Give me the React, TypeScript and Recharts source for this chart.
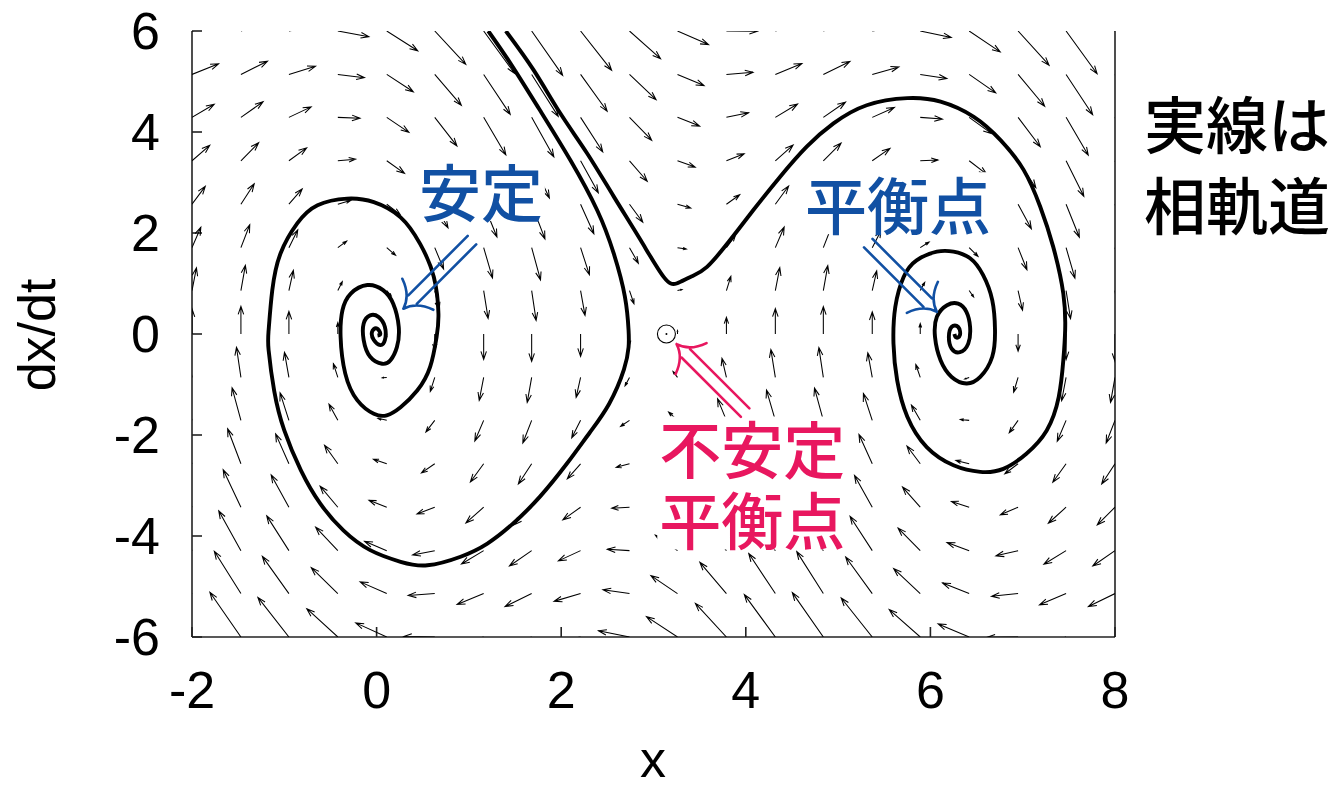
import React from 'react';
import { ComposedChart, XAxis, YAxis, Line, Scatter, Label } from 'recharts';

// axis ticks
const xTicks = [-2, 0, 2, 4, 6, 8];
const yTicks = [-6, -4, -2, 0, 2, 4, 6];

// vector field grid: 20 columns x 15 rows
const fieldX = [-2, -1.47, -0.95, -0.42, 0.11, 0.63, 1.16, 1.68, 2.21, 2.74, 3.26, 3.79, 4.32, 4.84, 5.37, 5.89, 6.42, 6.95, 7.47, 8];
const fieldY = [-6, -5.14, -4.29, -3.43, -2.57, -1.71, -0.86, 0, 0.86, 1.71, 2.57, 3.43, 4.29, 5.14, 6];
const columnPull = [8.9, 9.8, 8.0, 4.0, -1.0, -5.8, -9.0, -9.7, -7.9, -3.8, 1.2, 5.9, 9.0, 9.7, 7.8, 3.7, -1.4, -6.1, -9.1, -9.7];
const damping = 1.0;

// orbit falling into the left stable point
const leftOrbitX = [
  1.21, 1.45, 1.77, 2.1, 2.39, 2.57, 2.69, 2.73, 2.73, 2.68,
  2.52, 2.31, 2.06, 1.77, 1.48, 1.2, 0.91, 0.55, 0.26, -0.07,
  -0.36, -0.61, -0.82, -1.0, -1.11, -1.17, -1.17, -1.13, -1.04, -0.86,
  -0.64, -0.32, -0.03, 0.26, 0.47, 0.62, 0.67, 0.65, 0.58, 0.44,
  0.26, 0.11, -0.03, -0.21, -0.34, -0.39, -0.37, -0.28, -0.1, 0.07,
  0.18, 0.24, 0.22, 0.15, 0.06, -0.07, -0.14, -0.14, -0.07, 0.02,
  0.09, 0.09, 0.04, -0.03, -0.05, 0.0, 0.04, 0.01,
];
const leftOrbitY = [
  6.0, 5.36, 4.43, 3.44, 2.45, 1.59, 0.74, 0.07, -0.26, -0.7,
  -1.38, -1.95, -2.57, -3.22, -3.75, -4.15, -4.41, -4.58, -4.51, -4.28,
  -3.89, -3.36, -2.7, -1.91, -1.12, -0.32, 0.07, 0.87, 1.6, 2.19,
  2.55, 2.68, 2.61, 2.31, 1.79, 1.13, 0.4, -0.06, -0.65, -1.12,
  -1.45, -1.61, -1.58, -1.31, -0.78, -0.06, 0.47, 0.8, 0.97, 0.87,
  0.6, 0.14, -0.26, -0.52, -0.59, -0.45, -0.12, 0.21, 0.37, 0.34,
  0.14, -0.12, -0.22, -0.12, 0.04, 0.11, 0.01, -0.03,
];

// orbit passing over the saddle into the right stable point
const rightOrbitX = [
  1.4, 1.7, 1.99, 2.28, 2.57, 2.86, 3.11, 3.25, 3.4, 3.58,
  3.83, 4.08, 4.37, 4.66, 4.95, 5.31, 5.75, 6.11, 6.47, 6.76,
  7.01, 7.19, 7.33, 7.44, 7.46, 7.44, 7.39, 7.26, 7.04, 6.79,
  6.54, 6.25, 5.96, 5.75, 5.64, 5.6, 5.62, 5.71, 5.85, 6.07,
  6.25, 6.43, 6.57, 6.67, 6.7, 6.67, 6.54, 6.39, 6.23, 6.11,
  6.05, 6.07, 6.18, 6.3, 6.39, 6.43, 6.41, 6.32, 6.23, 6.2,
  6.23, 6.3, 6.32, 6.28, 6.26,
];
const rightOrbitY = [
  6.0, 5.23, 4.37, 3.58, 2.72, 1.86, 1.13, 1.0, 1.13, 1.33,
  1.86, 2.45, 3.11, 3.71, 4.17, 4.53, 4.67, 4.6, 4.3, 3.84,
  3.25, 2.52, 1.73, 0.8, 0.08, -0.52, -1.25, -1.91, -2.37, -2.67,
  -2.73, -2.6, -2.24, -1.64, -0.92, -0.19, 0.54, 1.13, 1.46, 1.63,
  1.63, 1.5, 1.17, 0.67, 0.08, -0.45, -0.85, -0.98, -0.85, -0.52,
  -0.06, 0.34, 0.57, 0.6, 0.44, 0.14, -0.19, -0.36, -0.29, -0.06,
  0.14, 0.14, -0.02, -0.07, 0.0,
];

const BLUE = '#1150a3';
const PINK = '#e8175f';
const FONT = '"Liberation Sans", Arial, sans-serif';
const CJK = '"Noto Sans CJK JP", "Noto Sans CJK SC", sans-serif';

// annotations
const notes = [
  { x: 1.13, y: 2.85, lines: ['安定'], color: BLUE },
  { x: 5.65, y: 2.59, lines: ['平衡点'], color: BLUE },
  { x: 4.07, y: -2.95, lines: ['不安定', '平衡点'], color: PINK },
];
const pointers = [
  { x: 0.29, y: 0.5, angle: -45, color: BLUE },
  { x: 6.07, y: 0.44, angle: -135, color: BLUE },
  { x: 3.25, y: -0.2, angle: 45, color: PINK },
];
const saddle = [{ x: 3.14, y: 0 }];
const sideNote = ['実線は', '相軌道'];

// layout
const W = 1335;
const H = 788;
const MARGIN = { top: 31, right: 219, bottom: 0, left: 0 };
const Y_AXIS_W = 192;
const X_AXIS_H = 151;
const PX_X = (W - MARGIN.right - 1 - Y_AXIS_W) / 10;
const PX_Y = (H - MARGIN.top - X_AXIS_H) / 12;
const STEP = 0.056;

const fieldData = fieldX.flatMap((x, i) =>
  fieldY.map((y) => ({ x, y, u: y, v: columnPull[i] - damping * y }))
);
const leftOrbit = leftOrbitX.map((x, i) => ({ x, y: leftOrbitY[i] }));
const rightOrbit = rightOrbitX.map((x, i) => ({ x, y: rightOrbitY[i] }));

function FieldArrow(props: any) {
  const { cx, cy, payload } = props;
  if (cx == null || cy == null) return <g />;
  const dx = payload.u * STEP * PX_X;
  const dy = -payload.v * STEP * PX_Y;
  const len = Math.hypot(dx, dy);
  if (len < 0.6) return <g />;
  const ex = cx + dx;
  const ey = cy + dy;
  const bx = -dx / len;
  const by = -dy / len;
  const hl = Math.min(8.5, len * 0.4);
  const c = Math.cos(0.33);
  const s = Math.sin(0.33);
  const w1x = ex + hl * (bx * c - by * s);
  const w1y = ey + hl * (bx * s + by * c);
  const w2x = ex + hl * (bx * c + by * s);
  const w2y = ey + hl * (-bx * s + by * c);
  return (
    <path
      d={`M${cx},${cy}L${ex},${ey}M${w1x},${w1y}L${ex},${ey}L${w2x},${w2y}`}
      stroke="#000"
      strokeWidth={1.05}
      fill="none"
    />
  );
}

function Pointer(props: any) {
  const { cx, cy, payload } = props;
  const t = (payload.angle * Math.PI) / 180;
  const bx = Math.cos(t);
  const by = Math.sin(t);
  const nx = -by;
  const ny = bx;
  const at = (a: number, r: number) => {
    const c = Math.cos(a);
    const s = Math.sin(a);
    return [cx + r * (bx * c - by * s), cy + r * (bx * s + by * c)];
  };
  const shafts = [-6, 6].map(
    (o) =>
      `M${cx + bx * 13 + nx * o},${cy + by * 13 + ny * o}L${cx + bx * 97 + nx * o},${cy + by * 97 + ny * o}`
  );
  const wings = [1, -1].map((sg) => {
    const [qx, qy] = at(sg * 0.3, 15);
    const [ex, ey] = at(sg * 0.82, 30);
    return `M${cx},${cy}Q${qx},${qy} ${ex},${ey}`;
  });
  return (
    <path
      d={[...shafts, ...wings].join('')}
      stroke={payload.color}
      strokeWidth={2.6}
      fill="none"
      strokeLinecap="round"
    />
  );
}

function Note(props: any) {
  const { cx, cy, payload } = props;
  const fs = 62;
  const gap = 71;
  const lines: string[] = payload.lines;
  const w = Math.max(...lines.map((l) => l.length)) * fs + 4;
  const h = (lines.length - 1) * gap + fs;
  const top = cy - ((lines.length - 1) / 2) * gap;
  return (
    <g>
      <rect x={cx - w / 2} y={cy - h / 2} width={w} height={h} fill="#fff" />
      <text
        x={cx}
        y={top}
        textAnchor="middle"
        dominantBaseline="central"
        fontSize={fs}
        fontFamily={CJK}
        fontWeight={500}
        fill={payload.color}
      >
        {lines.map((l, i) => (
          <tspan key={i} x={cx} dy={i === 0 ? 0 : gap}>
            {l}
          </tspan>
        ))}
      </text>
    </g>
  );
}

function SaddleMark(props: any) {
  const { cx, cy } = props;
  return (
    <g>
      <circle cx={cx} cy={cy} r={9} fill="none" stroke="#000" strokeWidth={1.1} />
      <circle cx={cx} cy={cy} r={1} fill="#000" />
    </g>
  );
}

const axisStyle = { stroke: '#222', strokeWidth: 1.6 };
const tickStyle = { fill: '#000', fontSize: 52, fontFamily: FONT };
const blank = () => '';

export default function App() {
  return (
    <div style={{ position: 'absolute', left: 0, top: 0, width: W, height: H, background: '#fff' }}>
      <ComposedChart width={W} height={H} margin={MARGIN}>
        <XAxis
          xAxisId="b"
          dataKey="x"
          type="number"
          domain={[-2, 8]}
          ticks={xTicks}
          interval={0}
          allowDataOverflow
          height={X_AXIS_H}
          axisLine={axisStyle}
          tickLine={axisStyle}
          tickSize={-10}
          tickMargin={44}
          tick={tickStyle}
          label={
            <Label
              content={() => (
                <text x={653} y={777} textAnchor="middle" fontSize={52} fontFamily={FONT} fill="#000">
                  x
                </text>
              )}
            />
          }
        />
        <XAxis
          xAxisId="t"
          orientation="top"
          dataKey="x"
          type="number"
          domain={[-2, 8]}
          ticks={xTicks}
          interval={0}
          height={0}
          axisLine={axisStyle}
          tickLine={axisStyle}
          tickSize={-10}
          tickFormatter={blank}
        />
        <YAxis
          yAxisId="l"
          dataKey="y"
          type="number"
          domain={[-6, 6]}
          ticks={yTicks}
          interval={0}
          allowDataOverflow
          width={Y_AXIS_W}
          axisLine={axisStyle}
          tickLine={axisStyle}
          tickSize={-10}
          tickMargin={42}
          tick={tickStyle}
          label={
            <Label
              content={() => (
                <text
                  transform="translate(55,335) rotate(-90)"
                  textAnchor="middle"
                  fontSize={52}
                  fontFamily={FONT}
                  fill="#000"
                >
                  dx/dt
                </text>
              )}
            />
          }
        />
        <YAxis
          yAxisId="r"
          orientation="right"
          dataKey="y"
          type="number"
          domain={[-6, 6]}
          ticks={yTicks}
          interval={0}
          width={1}
          axisLine={axisStyle}
          tickLine={axisStyle}
          tickSize={-10}
          tickFormatter={blank}
        />
        <Scatter
          xAxisId="b"
          yAxisId="l"
          data={fieldData}
          dataKey="y"
          shape={FieldArrow}
          isAnimationActive={false}
        />
        <Line
          xAxisId="b"
          yAxisId="l"
          data={leftOrbit}
          dataKey="y"
          type="natural"
          stroke="#000"
          strokeWidth={3.9}
          dot={false}
          activeDot={false}
          isAnimationActive={false}
        />
        <Line
          xAxisId="b"
          yAxisId="l"
          data={rightOrbit}
          dataKey="y"
          type="natural"
          stroke="#000"
          strokeWidth={3.9}
          dot={false}
          activeDot={false}
          isAnimationActive={false}
        />
        <Scatter xAxisId="b" yAxisId="l" data={saddle} dataKey="y" shape={SaddleMark} isAnimationActive={false} />
        <Scatter xAxisId="b" yAxisId="l" data={notes} dataKey="y" shape={Note} isAnimationActive={false} />
        <Scatter xAxisId="b" yAxisId="l" data={pointers} dataKey="y" shape={Pointer} isAnimationActive={false} />
      </ComposedChart>
      <svg
        width={W}
        height={H}
        style={{ position: 'absolute', left: 0, top: 0, pointerEvents: 'none' }}
      >
        <text
          x={1237}
          y={122}
          textAnchor="middle"
          dominantBaseline="central"
          fontSize={62}
          fontFamily={CJK}
          fontWeight={500}
          fill="#000"
        >
          {sideNote.map((line, i) => (
            <tspan key={line} x={1237} dy={i === 0 ? 0 : 81}>
              {line}
            </tspan>
          ))}
        </text>
      </svg>
    </div>
  );
}
